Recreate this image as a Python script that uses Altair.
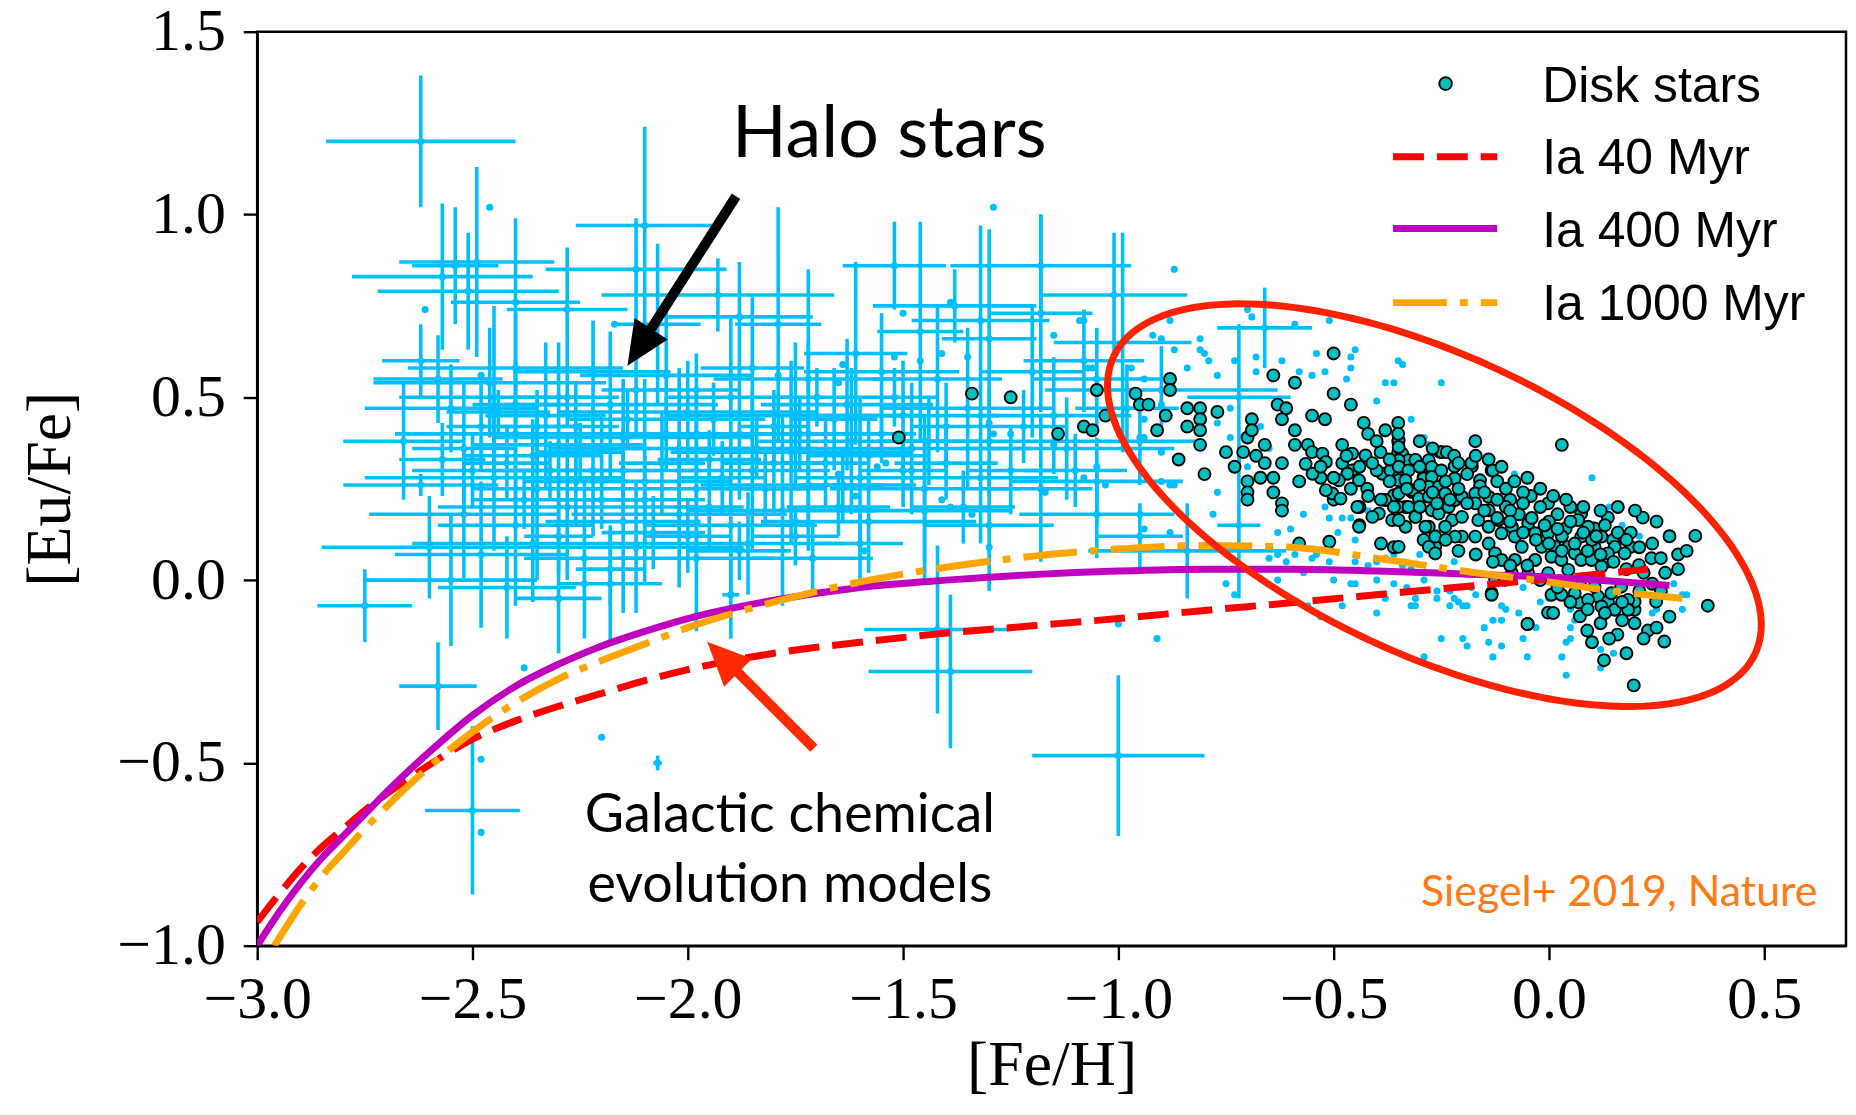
import altair as alt
import pandas as pd
import numpy as np

# ---------------- axes ----------------
x_domain = [-3.0, 0.69]
y_domain = [-1.0, 1.5]
x_ticks = [-3.0, -2.5, -2.0, -1.5, -1.0, -0.5, 0.0, 0.5]
y_ticks = [-1.0, -0.5, 0.0, 0.5, 1.0, 1.5]

# ---------------- halo stars: ([Fe/H], [Eu/Fe], err_FeH, err_EuFe) ----------------
halo_stars = [
    (-2.62, 1.20, 0.22, 0.18), (-2.10, 0.97, 0.16, 0.27), (-2.57, 0.83, 0.21, 0.20),
    (-2.49, 0.87, 0.18, 0.26), (-2.51, 0.79, 0.21, 0.16), (-2.54, 0.86, 0.10, 0.16),
    (-2.40, 0.76, 0.15, 0.23), (-2.12, 0.85, 0.21, 0.14), (-2.28, 0.74, 0.14, 0.17),
    (-2.07, 0.70, 0.10, 0.22), (-1.93, 0.78, 0.27, 0.10), (-1.88, 0.72, 0.17, 0.15),
    (-1.79, 0.70, 0.10, 0.32), (-1.61, 0.62, 0.12, 0.25), (-1.52, 0.86, 0.12, 0.12),
    (-1.46, 0.68, 0.10, 0.30), (-1.38, 0.75, 0.19, 0.10), (-1.32, 0.71, 0.16, 0.26),
    (-1.30, 0.66, 0.11, 0.30), (-1.18, 0.86, 0.21, 0.14), (-1.18, 0.73, 0.12, 0.27),
    (-1.01, 0.78, 0.17, 0.17), (-0.99, 0.65, 0.16, 0.30), (-1.08, 0.60, 0.14, 0.14),
    (-0.66, 0.69, 0.11, 0.11), (-0.72, 0.50, 0.12, 0.20), (-0.90, 0.52, 0.27, 0.12),
    (-2.62, 0.60, 0.09, 0.10), (-2.46, 0.54, 0.27, 0.15), (-2.58, 0.55, 0.15, 0.12),
    (-2.40, 0.58, 0.25, 0.15), (-2.22, 0.57, 0.18, 0.14), (-2.05, 0.56, 0.20, 0.18),
    (-1.85, 0.58, 0.12, 0.20), (-1.72, 0.55, 0.22, 0.30), (-1.55, 0.57, 0.18, 0.16),
    (-1.42, 0.55, 0.15, 0.20), (-1.20, 0.57, 0.12, 0.18), (-1.05, 0.55, 0.15, 0.14),
    (-2.55, 0.47, 0.20, 0.12), (-2.45, 0.50, 0.22, 0.25), (-2.33, 0.45, 0.14, 0.20),
    (-2.18, 0.48, 0.25, 0.20), (-2.00, 0.46, 0.30, 0.14), (-1.90, 0.50, 0.15, 0.22),
    (-1.75, 0.45, 0.30, 0.20), (-1.63, 0.48, 0.20, 0.18), (-1.50, 0.45, 0.22, 0.15),
    (-1.35, 0.47, 0.20, 0.22), (-1.15, 0.45, 0.18, 0.16), (-0.98, 0.47, 0.12, 0.12),
    (-2.66, 0.38, 0.14, 0.16), (-2.52, 0.36, 0.12, 0.18), (-2.40, 0.40, 0.28, 0.20),
    (-2.30, 0.37, 0.20, 0.28), (-2.15, 0.39, 0.30, 0.16), (-2.02, 0.36, 0.25, 0.22),
    (-1.88, 0.40, 0.20, 0.18), (-1.76, 0.35, 0.28, 0.25), (-1.62, 0.38, 0.22, 0.20),
    (-1.48, 0.36, 0.28, 0.18), (-1.30, 0.38, 0.20, 0.15), (-1.12, 0.36, 0.25, 0.14),
    (-0.95, 0.38, 0.15, 0.12), (-2.57, 0.33, 0.10, 0.10), (-2.45, 0.28, 0.30, 0.20),
    (-2.35, 0.25, 0.15, 0.25), (-2.22, 0.30, 0.25, 0.18), (-2.10, 0.27, 0.20, 0.28),
    (-1.98, 0.25, 0.30, 0.20), (-1.85, 0.30, 0.18, 0.22), (-1.72, 0.26, 0.25, 0.18),
    (-1.60, 0.28, 0.15, 0.22), (-1.45, 0.25, 0.22, 0.20), (-1.32, 0.28, 0.18, 0.18),
    (-1.18, 0.25, 0.12, 0.20), (-1.05, 0.27, 0.20, 0.12), (-2.62, 0.26, 0.18, 0.03),
    (-2.52, 0.18, 0.22, 0.18), (-2.40, 0.15, 0.18, 0.22), (-2.28, 0.20, 0.30, 0.20),
    (-2.15, 0.16, 0.18, 0.25), (-2.02, 0.18, 0.25, 0.20), (-1.90, 0.15, 0.20, 0.18),
    (-1.78, 0.19, 0.22, 0.26), (-1.72, 0.40, 0.10, 0.25), (-1.58, 0.16, 0.25, 0.14),
    (-1.45, 0.19, 0.20, 0.20), (-1.30, 0.15, 0.15, 0.18), (-1.05, 0.18, 0.18, 0.12),
    (-2.60, 0.09, 0.25, 0.14), (-2.48, 0.07, 0.20, 0.20), (-2.36, 0.10, 0.28, 0.16),
    (-2.24, 0.06, 0.14, 0.22), (-2.12, 0.09, 0.25, 0.18), (-1.98, 0.06, 0.18, 0.20),
    (-1.86, 0.10, 0.22, 0.14), (-1.71, 0.06, 0.14, 0.10), (-0.95, 0.12, 0.10, 0.09),
    (-0.84, 0.08, 0.23, 0.13), (-0.72, 0.15, 0.05, 0.20), (-2.75, -0.07, 0.11, 0.10),
    (-2.55, 0.00, 0.20, 0.18), (-2.42, -0.02, 0.16, 0.14), (-2.30, -0.05, 0.10, 0.15),
    (-2.18, -0.01, 0.12, 0.16), (-1.90, -0.04, 0.02, 0.12), (-2.58, -0.29, 0.09, 0.12),
    (-2.50, -0.63, 0.11, 0.23), (-1.42, -0.135, 0.17, 0.23), (-1.39, -0.25, 0.19, 0.21),
    (-1.00, -0.48, 0.20, 0.22), (-2.07, -0.50, 0.01, 0.02),
    (-2.35, 0.42, 0.08, 0.10), (-2.25, 0.35, 0.10, 0.08), (-2.15, 0.30, 0.08, 0.12),
    (-2.05, 0.40, 0.10, 0.10), (-1.95, 0.33, 0.12, 0.08), (-1.80, 0.42, 0.08, 0.10),
    (-1.68, 0.32, 0.10, 0.12), (-1.55, 0.40, 0.08, 0.08), (-2.30, 0.12, 0.08, 0.10),
    (-2.20, 0.22, 0.10, 0.08), (-2.08, 0.13, 0.12, 0.10), (-1.95, 0.20, 0.08, 0.12),
    (-1.82, 0.25, 0.10, 0.10), (-1.65, 0.20, 0.12, 0.08), (-1.50, 0.30, 0.10, 0.10),
    (-1.40, 0.42, 0.08, 0.12), (-2.42, 0.32, 0.10, 0.10), (-2.28, 0.50, 0.12, 0.08),
    (-2.12, 0.52, 0.08, 0.12), (-1.98, 0.52, 0.10, 0.10), (-1.70, 0.50, 0.08, 0.08),
    (-2.38, 0.22, 0.12, 0.08), (-2.48, 0.42, 0.08, 0.12), (-1.60, 0.10, 0.10, 0.10),
    (-1.88, 0.08, 0.12, 0.08), (-2.00, 0.12, 0.10, 0.10), (-2.18, 0.03, 0.08, 0.10),
    (-1.75, 0.12, 0.10, 0.08), (-1.25, 0.30, 0.10, 0.12), (-1.40, 0.32, 0.12, 0.10),
    (-2.44, 0.46, 0.12, 0.06), (-2.36, 0.34, 0.16, 0.10), (-2.26, 0.42, 0.10, 0.12),
    (-2.14, 0.44, 0.14, 0.08), (-2.06, 0.32, 0.10, 0.14), (-1.94, 0.44, 0.12, 0.10),
    (-1.84, 0.36, 0.14, 0.08), (-1.74, 0.40, 0.16, 0.10), (-1.66, 0.44, 0.10, 0.14),
    (-1.58, 0.34, 0.14, 0.10), (-1.52, 0.50, 0.10, 0.08), (-1.44, 0.38, 0.12, 0.12),
    (-2.32, 0.30, 0.10, 0.08), (-2.20, 0.36, 0.12, 0.10), (-2.10, 0.22, 0.14, 0.12),
    (-1.92, 0.28, 0.10, 0.10), (-1.80, 0.32, 0.12, 0.14), (-1.64, 0.26, 0.10, 0.10),
    (-2.50, 0.30, 0.14, 0.10), (-2.40, 0.48, 0.10, 0.10), (-1.36, 0.20, 0.12, 0.10),
    (-1.22, 0.42, 0.10, 0.10), (-1.10, 0.30, 0.12, 0.10), (-2.26, 0.27, 0.12, 0.12),
    (-1.98, 0.40, 0.14, 0.12),
]

# ---------------- small light-blue points ----------------
field_dots = [
    (-1.29, 1.02), (-0.87, 0.85), (-1.15, 0.67), (-1.59, 0.08), (-1.30, 0.09), (-1.71, 0.06),
    (-0.88, 0.71), (-0.92, 0.67), (-0.90, 0.66), (-0.81, 0.66), (-0.87, 0.63), (-0.80, 0.62),
    (-1.06, 0.58), (-0.94, 0.55), (-0.90, 0.48), (-0.90, 0.27), (-0.88, 0.26), (-0.94, 0.14),
    (-0.88, 0.13), (-1.03, 0.26), (-1.08, 0.28), (-1.05, 0.31), (-1.39, 0.76), (-1.50, 0.73),
    (-1.08, 0.71), (-1.52, 0.61), (-1.41, 0.62), (-1.35, 0.61), (-1.46, 0.60), (-1.64, 0.59),
    (-1.65, 0.54), (-1.79, 0.56), (-1.56, 0.31), (-1.65, 0.29), (-1.54, 0.32), (-1.48, 0.30),
    (-1.41, 0.22), (-1.39, 0.20), (-1.34, 0.18), (-1.30, 0.43), (-1.29, 0.40), (-1.25, 0.40),
    (-1.15, 0.37), (-0.94, 0.44), (-0.95, 0.39), (-1.17, 0.24), (-1.61, 0.23), (-1.75, 0.16),
    (-2.46, 1.02), (-2.61, 0.74), (-2.48, 0.56), (-2.17, 0.70), (-2.24, -0.01), (-2.20, -0.43),
    (-2.38, -0.24), (-2.48, -0.49), (-2.48, -0.69), (-1.00, -0.12), (-0.91, -0.16), (-1.90, -0.04),
    (-0.70, 0.74), (-0.69, 0.72), (-0.59, 0.70), (-0.51, 0.71), (-0.81, 0.63), (-0.79, 0.60),
    (-0.77, 0.56), (-0.84, 0.58), (-0.73, 0.60), (-0.68, 0.61), (-0.68, 0.57), (-0.62, 0.60),
    (-0.58, 0.57), (-0.55, 0.56), (-0.52, 0.57), (-0.54, 0.62), (-0.45, 0.63), (-0.46, 0.61),
    (-0.46, 0.58), (-0.47, 0.55), (-0.40, 0.49), (-0.35, 0.60), (-0.34, 0.59), (-0.36, 0.54),
    (-0.38, 0.54), (-0.25, 0.54), (-0.29, 0.39), (-0.32, 0.44), (-0.75, -0.01), (-0.73, -0.04),
    (-0.63, 0.00), (-0.57, 0.02), (-0.53, 0.03), (-0.50, 0.00), (-0.46, -0.01), (-0.40, 0.00),
    (-0.36, -0.01), (-0.51, 0.17), (-0.48, 0.17), (-0.46, 0.17), (-0.49, 0.13), (-0.45, 0.11),
    (-0.52, 0.20), (-0.57, 0.18), (-0.60, 0.14), (-0.63, 0.13), (-0.63, 0.07), (-0.61, 0.05),
    (-0.55, 0.06), (-0.32, 0.03), (-0.29, 0.02), (-0.40, 0.05), (-0.38, 0.06), (-0.42, 0.19),
    (-0.40, 0.22), (-0.30, 0.23), (-0.25, 0.18), (-0.26, 0.13), (-0.70, 0.31), (-0.65, 0.36),
    (-0.67, 0.42), (-0.74, 0.39), (-0.77, 0.43), (-0.74, 0.47), (-0.77, 0.24), (-0.78, 0.18),
    (-0.87, 0.26), (-0.90, 0.35), (-0.94, 0.39), (-0.97, 0.58), (-1.07, 0.58), (-1.09, 0.71),
    (-0.95, 0.18), (-0.28, 0.37), (-0.08, 0.29), (0.10, 0.28), (0.15, 0.20), (0.31, -0.04),
    (0.31, -0.08), (0.32, -0.04), (0.04, -0.26), (-0.25, -0.16), (-0.29, -0.21), (-0.13, -0.21),
    (-0.05, -0.21), (0.03, -0.21), (-0.20, -0.16), (-0.19, -0.18), (-0.14, -0.17), (-0.11, -0.18),
    (-0.06, -0.16), (-0.15, -0.13), (-0.13, -0.11), (-0.11, -0.11), (-0.07, -0.09), (-0.03, -0.13),
    (0.05, -0.16), (0.05, -0.13), (-0.22, -0.05), (-0.21, -0.06), (-0.23, -0.07), (-0.19, -0.07),
    (-0.31, -0.07), (-0.31, -0.05), (-0.26, -0.05), (-0.17, -0.04), (-0.11, -0.07), (-0.10, -0.08),
    (-0.02, -0.06), (0.00, -0.05), (0.05, -0.08), (0.06, -0.11), (0.15, -0.20), (0.24, -0.09),
    (0.25, -0.08), (0.21, 0.12), (0.17, 0.15), (0.29, -0.01), (0.14, 0.20), (-0.34, 0.04),
    (-0.29, 0.00), (-0.26, -0.03), (-0.33, -0.02), (-0.18, -0.02), (-0.06, -0.02), (-0.65, 0.06),
    (-0.59, 0.07), (-0.54, 0.07), (-0.51, 0.05), (-0.45, 0.05), (-0.42, 0.04), (-0.36, 0.07),
    (-0.30, 0.07), (-0.22, 0.05), (-0.48, -0.07), (-0.56, -0.07), (-0.53, -0.10), (-0.40, -0.09),
    (-0.38, -0.05), (-0.32, -0.07), (-0.20, -0.07), (-0.23, -0.03), (0.12, -0.19), (0.12, -0.24),
    (0.04, -0.17), (-0.45, -0.01),
]

# ---------------- disk stars (teal) ----------------
disk_stars = [
    (-1.51, 0.39), (-1.34, 0.51), (-1.25, 0.50), (-1.14, 0.40), (-1.08, 0.42), (-1.06, 0.41),
    (-1.05, 0.52), (-1.03, 0.45), (-0.96, 0.51), (-0.95, 0.48), (-0.93, 0.48), (-0.88, 0.55),
    (-0.88, 0.52), (-0.89, 0.45), (-0.91, 0.41), (-0.86, 0.33), (-0.84, 0.47), (-0.84, 0.42),
    (-0.81, 0.47), (-0.81, 0.44), (-0.81, 0.41), (-0.81, 0.37), (-0.80, 0.29), (-0.77, 0.46),
    (-0.75, 0.35), (-0.73, 0.31), (-0.71, 0.35), (-0.70, 0.39), (-0.69, 0.44), (-0.69, 0.41),
    (-0.70, 0.27), (-0.70, 0.24), (-0.70, 0.22), (-0.68, 0.34), (-0.66, 0.37), (-0.66, 0.32),
    (-0.67, 0.28), (-0.64, 0.56), (-0.64, 0.28), (-0.64, 0.24), (-0.63, 0.48), (-0.62, 0.44),
    (-0.62, 0.32), (-0.62, 0.21), (-0.62, 0.19), (-0.61, 0.47), (-0.59, 0.54), (-0.59, 0.41),
    (-0.59, 0.37), (-0.58, 0.27), (-0.56, 0.37), (-0.55, 0.35), (-0.53, 0.28), (-0.55, 0.45),
    (-0.52, 0.44), (-0.50, 0.62), (-0.50, 0.51), (-0.50, 0.22), (-0.48, 0.37), (-0.48, 0.32),
    (-0.46, 0.48), (-0.43, 0.43), (-0.44, 0.20), (-0.44, 0.15), (-0.58, 0.10), (-0.51, 0.105),
    (-0.39, 0.10), (-0.36, 0.09), (-0.35, 0.43), (-0.35, 0.38), (-0.35, 0.35),
    (-0.457, 0.346), (-0.426, 0.341), (-0.391, 0.350), (-0.387, 0.291), (-0.368, 0.300),
    (-0.349, 0.282), (-0.341, 0.346), (-0.326, 0.328), (-0.310, 0.328), (-0.279, 0.328),
    (-0.272, 0.309), (-0.291, 0.282), (-0.318, 0.241), (-0.360, 0.232), (-0.380, 0.219),
    (-0.333, 0.200), (-0.310, 0.173), (-0.272, 0.191), (-0.279, 0.146), (-0.291, 0.110),
    (-0.264, 0.091), (-0.395, 0.182), (-0.410, 0.173), (-0.364, 0.164), (-0.333, 0.146),
    (-0.457, 0.300), (-0.441, 0.273), (-0.422, 0.250), (-0.445, 0.200), (-0.441, 0.146),
    (-0.468, 0.291), (-0.488, 0.273), (-0.503, 0.237), (-0.484, 0.223), (-0.518, 0.246),
    (-0.549, 0.291), (-0.565, 0.318), (-0.526, 0.346), (-0.518, 0.323), (-0.252, 0.350),
    (-0.349, 0.382), (-0.349, 0.364), (-0.349, 0.328), (-0.349, 0.310), (-0.349, 0.273),
    (-0.349, 0.237), (-0.349, 0.200), (-0.349, 0.164), (-0.349, 0.091), (-0.310, 0.329),
    (-0.326, 0.300), (-0.333, 0.273), (-0.318, 0.246), (-0.302, 0.223), (-0.326, 0.200),
    (-0.310, 0.173), (-0.287, 0.146), (-0.264, 0.119), (-0.279, 0.091), (-0.264, 0.073),
    (-0.291, 0.278), (-0.272, 0.282), (-0.279, 0.255), (-0.256, 0.255), (-0.279, 0.228),
    (-0.241, 0.237), (-0.233, 0.200), (-0.218, 0.219), (-0.202, 0.228), (-0.225, 0.164),
    (-0.241, 0.146), (-0.256, 0.182), (-0.202, 0.173), (-0.202, 0.119), (-0.218, 0.119),
    (-0.248, 0.350), (-0.237, 0.350), (-0.171, 0.380), (-0.179, 0.311), (-0.219, 0.311),
    (-0.219, 0.278), (-0.133, 0.300), (-0.160, 0.273), (-0.160, 0.257), (-0.171, 0.237),
    (-0.171, 0.210), (-0.140, 0.228), (-0.140, 0.191), (-0.164, 0.164), (-0.140, 0.146),
    (-0.171, 0.119), (-0.140, 0.100), (-0.117, 0.164), (-0.110, 0.128), (-0.125, 0.073),
    (-0.110, 0.055), (-0.086, 0.146), (-0.079, 0.119), (-0.063, 0.091), (-0.079, 0.055),
    (-0.048, 0.155), (-0.032, 0.128), (-0.017, 0.091), (-0.032, 0.055), (-0.002, 0.128),
    (0.014, 0.091), (0.006, 0.064), (0.045, 0.091), (0.060, 0.073), (0.029, 0.055),
    (0.075, 0.055), (0.045, 0.028), (-0.002, 0.019), (-0.048, 0.019), (-0.086, 0.019),
    (-0.125, 0.001), (-0.133, -0.036), (-0.102, 0.001), (-0.090, 0.220), (-0.042, 0.230),
    (-0.002, 0.210), (0.075, 0.182), (0.137, 0.171), (0.218, 0.171), (0.340, 0.121),
    (0.369, -0.070), (0.190, 0.130), (0.190, 0.091), (0.238, 0.060), (0.209, 0.041),
    (0.039, 0.141), (0.106, 0.141), (0.149, 0.110), (0.137, 0.051), (0.268, -0.168),
    (0.128, -0.219), (0.197, -0.288), (0.159, -0.149), (0.230, -0.138), (0.089, -0.138),
    (0.120, -0.118), (0.199, -0.118), (-0.002, -0.089), (-0.049, -0.120), (0.072, -0.099),
    (0.069, -0.061), (0.114, -0.045), (0.137, -0.059), (0.199, -0.081), (0.199, -0.059),
    (0.249, -0.059), (-0.133, -0.040), (0.006, -0.040), (0.029, -0.040), (0.068, 0.164),
    (0.091, 0.146), (0.122, 0.119), (0.153, 0.091), (0.176, 0.073), (0.106, 0.091),
    (0.137, 0.073), (0.075, 0.119), (0.099, 0.055), (0.122, 0.037), (0.075, 0.001),
    (0.106, -0.018), (0.145, -0.036), (0.168, -0.018), (0.184, -0.054), (0.060, -0.036),
    (0.091, -0.054), (0.122, -0.072), (0.153, -0.081), (0.184, -0.081), (-0.18, 0.32),
    (-0.13, 0.30), (-0.35, 0.40), (0.01, -0.09), (-0.05, -0.12), (-0.42, 0.40), (-0.40, 0.38),
    (-0.38, 0.41), (-0.30, 0.38), (-0.27, 0.36), (-0.22, 0.34), (-0.12, 0.27), (-0.10, 0.25),
    (-0.06, 0.24), (-0.02, 0.20), (0.02, 0.18), (0.05, 0.20), (0.00, 0.16), (0.03, 0.12),
    (0.10, 0.11), (-0.07, 0.18), (-0.10, 0.20), (0.03, 0.37),
    (-0.40, 0.30), (-0.37, 0.27), (-0.33, 0.25), (-0.30, 0.26), (-0.27, 0.24), (-0.24, 0.27),
    (-0.21, 0.25), (-0.19, 0.29), (-0.15, 0.24), (-0.12, 0.22), (-0.09, 0.19), (-0.06, 0.21),
    (-0.04, 0.17), (-0.01, 0.15), (0.02, 0.14), (0.05, 0.16), (0.08, 0.13), (0.11, 0.12),
    (0.13, 0.15), (0.16, 0.13), (0.18, 0.11), (0.21, 0.09), (0.24, 0.10), (0.26, 0.06),
    (0.22, 0.02), (0.18, 0.03), (0.15, 0.05), (0.12, 0.07), (0.09, 0.08), (0.06, 0.10),
    (0.03, 0.08), (0.00, 0.10), (-0.03, 0.11), (-0.06, 0.13), (-0.09, 0.16), (-0.12, 0.17),
    (-0.15, 0.19), (-0.19, 0.21), (-0.23, 0.22), (-0.26, 0.21), (-0.30, 0.20), (-0.36, 0.20),
    (-0.39, 0.22), (-0.42, 0.23), (-0.46, 0.25), (-0.50, 0.28), (-0.53, 0.31), (-0.47, 0.34),
    (-0.44, 0.31), (-0.41, 0.32), (-0.37, 0.33), (-0.30, 0.31), (-0.25, 0.30), (-0.21, 0.32),
    (-0.17, 0.34), (-0.14, 0.33), (-0.11, 0.31), (-0.08, 0.27), (-0.05, 0.28), (-0.02, 0.25),
    (0.01, 0.23), (0.04, 0.22), (0.08, 0.20), (0.12, 0.19), (0.16, 0.20), (0.20, 0.19),
    (0.25, 0.16), (0.28, 0.12), (0.30, 0.07), (0.27, 0.02), (0.24, -0.01), (0.21, -0.03),
    (0.17, -0.06), (0.13, -0.09), (0.09, -0.08), (0.05, -0.06), (0.02, -0.02), (-0.02, 0.00),
    (-0.05, 0.04), (-0.09, 0.04), (-0.13, 0.05), (-0.17, 0.07), (-0.21, 0.08), (-0.24, 0.11),
    (0.28, -0.10), (0.25, -0.13), (0.22, -0.16), (0.17, -0.11), (0.26, -0.03), (0.30, 0.03),
    (0.32, 0.08), (0.14, -0.16), (0.18, -0.20), (0.10, -0.17),
]

# ---------------- chemical evolution models ----------------
ia40_feh = [-3.00, -2.95, -2.90, -2.85, -2.80, -2.75, -2.70, -2.60, -2.50, -2.40, -2.30, -2.20,
            -2.10, -2.00, -1.80, -1.60, -1.40, -1.20, -1.00, -0.80, -0.60, -0.40, -0.20, 0.00, 0.23]
ia40_eufe = [-0.935, -0.86, -0.79, -0.73, -0.68, -0.63, -0.585, -0.505, -0.435, -0.385, -0.345, -0.31,
             -0.275, -0.245, -0.20, -0.17, -0.145, -0.125, -0.105, -0.083, -0.062, -0.04, -0.018, 0.003, 0.03]
ia400_feh = [-3.00, -2.95, -2.90, -2.85, -2.80, -2.75, -2.70, -2.60, -2.50, -2.40, -2.30, -2.20,
             -2.10, -2.00, -1.80, -1.60, -1.40, -1.20, -1.00, -0.80, -0.60, -0.40, -0.20, 0.00, 0.15, 0.28]
ia400_eufe = [-1.00, -0.91, -0.83, -0.76, -0.70, -0.64, -0.58, -0.47, -0.37, -0.29, -0.23, -0.18,
              -0.14, -0.105, -0.055, -0.02, 0.00, 0.015, 0.025, 0.03, 0.03, 0.025, 0.017, 0.008, -0.003, -0.015]
ia1000_feh = [-2.96, -2.90, -2.85, -2.80, -2.75, -2.70, -2.60, -2.50, -2.40, -2.30, -2.20, -2.10,
              -2.00, -1.80, -1.60, -1.40, -1.20, -1.00, -0.80, -0.60, -0.40, -0.20, 0.00, 0.15, 0.31]
ia1000_eufe = [-1.00, -0.89, -0.81, -0.745, -0.68, -0.62, -0.51, -0.415, -0.335, -0.27, -0.22, -0.175,
               -0.13, -0.06, -0.005, 0.035, 0.065, 0.085, 0.095, 0.09, 0.06, 0.025, -0.005, -0.03, -0.05]

# ---------------- annotation geometry (data units) ----------------
ellipse_center = (-0.266, 0.205)
ellipse_axis_a = (0.745, -0.406)
ellipse_axis_b = (-0.146, -0.372)
black_arrow = [(-1.888, 1.050), (-2.1125, 0.637)]     # tail, arrowhead centre
red_arrow = [(-1.707, -0.460), (-1.919, -0.211)]
legend_labels = ["Disk stars", "Ia 40 Myr", "Ia 400 Myr", "Ia 1000 Myr"]
legend_text_y = [1.309, 1.110, 0.910, 0.712]
legend_line_y = [1.158, 0.962, 0.759]

# ---------------- colours ----------------
SKY = "#00BFFF"
TEAL = "#00BFBF"
RED = "#FF0000"
MAG = "#BF00BF"
ORANGE = "#FFA500"
ANNOT_RED = "#FF2A00"

xs = alt.Scale(domain=x_domain, nice=False, zero=False)
ys = alt.Scale(domain=y_domain, nice=False, zero=False)

x_axis = alt.Axis(values=x_ticks, format=".1f", title="[Fe/H]", grid=False,
                  labelFont="Liberation Serif", labelFontSize=60, labelColor="black",
                  labelPadding=11, labelFlush=False, labelOverlap=False,
                  tickSize=14, tickWidth=2.4, tickColor="black",
                  domainColor="black", domainWidth=2.5,
                  titleFont="Liberation Serif", titleFontSize=64, titleFontWeight="normal",
                  titleColor="black", titleX=797, titleY=139, titleBaseline="alphabetic",
                  titleAlign="center")
y_axis = alt.Axis(values=y_ticks, format=".1f", title="[Eu/Fe]", grid=False,
                  labelFont="Liberation Serif", labelFontSize=60, labelColor="black",
                  labelPadding=18, labelFlush=False, labelOverlap=False,
                  tickSize=14, tickWidth=2.4, tickColor="black",
                  domainColor="black", domainWidth=2.5,
                  titleFont="Liberation Serif", titleFontSize=64, titleFontWeight="normal",
                  titleColor="black", titleAngle=270, titleX=-188, titleY=458.5,
                  titleBaseline="alphabetic", titleAlign="center")


def X(f="x"):
    return alt.X(f"{f}:Q", scale=xs, axis=x_axis, title="[Fe/H]")


def Y(f="y"):
    return alt.Y(f"{f}:Q", scale=ys, axis=y_axis, title="[Eu/Fe]")


# ---------------- data frames ----------------
halo = pd.DataFrame(halo_stars, columns=["x", "y", "xe", "ye"])
halo["xlo"] = halo["x"] - halo["xe"]
halo["xhi"] = halo["x"] + halo["xe"]
halo["ylo"] = halo["y"] - halo["ye"]
halo["yhi"] = halo["y"] + halo["ye"]
dots = pd.concat([halo[["x", "y"]], pd.DataFrame(field_dots, columns=["x", "y"])])
disk = pd.DataFrame(disk_stars, columns=["x", "y"])

hbars = alt.Chart(halo).mark_rule(color=SKY, strokeWidth=3.6, clip=True).encode(
    x=X("xlo"), x2="xhi", y=Y("y"))
vbars = alt.Chart(halo).mark_rule(color=SKY, strokeWidth=3.6, clip=True).encode(
    x=X("x"), y=Y("ylo"), y2="yhi")
dot_layer = alt.Chart(dots).mark_circle(color=SKY, size=50, opacity=1).encode(x=X(), y=Y())
disk_layer = alt.Chart(disk).mark_circle(fill=TEAL, stroke="black", strokeWidth=1.9,
                                         size=145, opacity=1).encode(x=X(), y=Y())


def model(fx, fy, color, dash=None):
    df = pd.DataFrame({"x": fx, "y": fy})
    kw = dict(color=color, strokeWidth=7, interpolate="monotone", clip=True, strokeCap="butt")
    if dash:
        kw["strokeDash"] = dash
    return alt.Chart(df).mark_line(**kw).encode(x=X(), y=Y(), order="x:Q")


m40 = model(ia40_feh, ia40_eufe, RED, [31, 13])
m400 = model(ia400_feh, ia400_eufe, MAG)
m1000 = model(ia1000_feh, ia1000_eufe, ORANGE, [54, 13, 8, 13])

# ellipse outline
t = np.linspace(0, 2 * np.pi, 241)
ell = pd.DataFrame({
    "x": ellipse_center[0] + ellipse_axis_a[0] * np.cos(t) + ellipse_axis_b[0] * np.sin(t),
    "y": ellipse_center[1] + ellipse_axis_a[1] * np.cos(t) + ellipse_axis_b[1] * np.sin(t),
    "i": np.arange(len(t)),
})
ellipse = alt.Chart(ell).mark_line(color="#FF2200", strokeWidth=7).encode(
    x=X(), y=Y(), order="i:Q")

# arrows
head_path = "M0,-1L0.9,1L-0.9,1Z"


def arrow(pts, color, angle):
    shaft = pd.DataFrame({"x": [pts[0][0]], "y": [pts[0][1]],
                          "x2": [pts[1][0]], "y2": [pts[1][1]]})
    head = pd.DataFrame({"x": [pts[1][0]], "y": [pts[1][1]]})
    s = alt.Chart(shaft).mark_rule(color=color, strokeWidth=10).encode(
        x=X(), y=Y(), x2="x2", y2="y2")
    h = alt.Chart(head).mark_point(shape=head_path, filled=True, fill=color, color=color,
                                   size=1936, angle=angle, opacity=1).encode(x=X(), y=Y())
    return s + h


arrow_k = arrow(black_arrow, "black", 212.7)
arrow_r = arrow(red_arrow, ANNOT_RED, 315.1)

# annotation texts
halo_txt = alt.Chart(pd.DataFrame({"x": [-1.532], "y": [1.158], "t": ["Halo stars"]})).mark_text(
    font="Lato", fontSize=72, align="center", baseline="alphabetic", color="black").encode(
    x=X(), y=Y(), text="t:N")
gce_txt = alt.Chart(pd.DataFrame({"x": [-1.763, -1.763], "y": [-0.689, -0.880],
                                  "t": ["Galactic chemical", "evolution models"]})).mark_text(
    font="Lato", fontSize=54, align="center", baseline="alphabetic", color="black").encode(
    x=X(), y=Y(), text="t:N")
cite_txt = alt.Chart(pd.DataFrame({"x": [0.6235], "y": [-0.890], "t": ["Siegel+ 2019, Nature"]})).mark_text(
    font="Lato", fontSize=43, align="right", baseline="alphabetic", color="#FF7A12").encode(
    x=X(), y=Y(), text="t:N")

# legend
leg_txt = alt.Chart(pd.DataFrame({"x": [-0.0155] * 4, "y": legend_text_y, "t": legend_labels})).mark_text(
    font="Liberation Sans", fontSize=50, align="left", baseline="alphabetic", color="black").encode(
    x=X(), y=Y(), text="t:N")
leg_dot = alt.Chart(pd.DataFrame({"x": [-0.240], "y": [1.358]})).mark_circle(
    fill=TEAL, stroke="black", strokeWidth=1.9, size=160, opacity=1).encode(x=X(), y=Y())


def leg_line(yv, color, dash=None):
    df = pd.DataFrame({"x": [-0.362], "x2": [-0.120], "y": [yv]})
    kw = dict(color=color, strokeWidth=7, strokeCap="butt")
    if dash:
        kw["strokeDash"] = dash
    return alt.Chart(df).mark_rule(**kw).encode(x=X(), x2="x2", y=Y())


leg_l1 = leg_line(legend_line_y[0], RED, [31, 13])
leg_l2 = leg_line(legend_line_y[1], MAG)
leg_l3 = leg_line(legend_line_y[2], ORANGE, [54, 13, 8, 13])

chart = alt.layer(
    hbars, vbars, dot_layer, disk_layer, m40, m400, m1000, ellipse,
    arrow_k, arrow_r, halo_txt, gce_txt, cite_txt,
    leg_dot, leg_l1, leg_l2, leg_l3, leg_txt,
).properties(
    width=1594, height=917,
    padding={"left": 250, "top": 22, "right": 2, "bottom": 155},
    autosize=alt.AutoSizeParams(type="none"),
    background="white",
).configure_view(stroke="black", strokeWidth=2.5)

chart.save("out.html", embed_options={"renderer": "svg", "actions": False})
